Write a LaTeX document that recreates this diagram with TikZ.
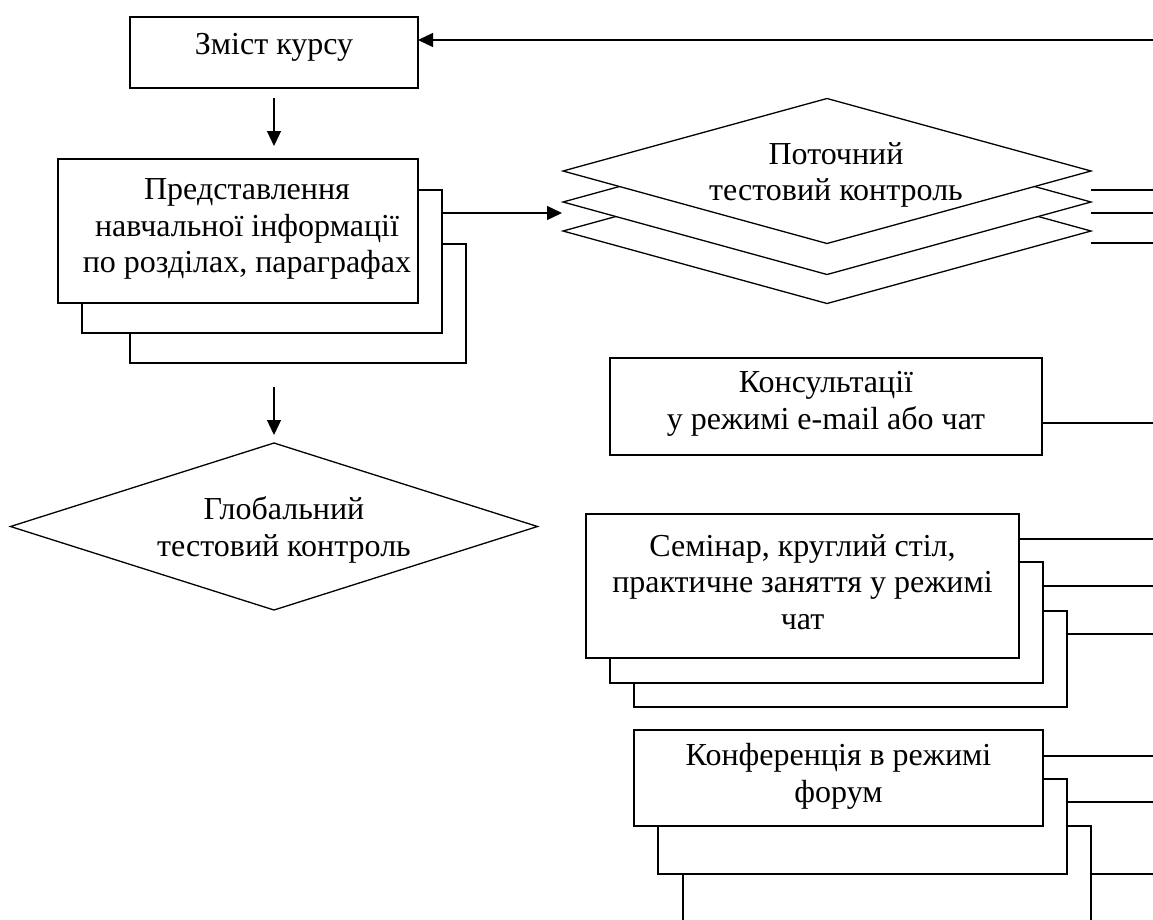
\documentclass[tikz,border=0pt]{standalone}
\usepackage{fontspec}
\setmainfont{Liberation Serif}
\usetikzlibrary{shapes.geometric,arrows.meta}
\tikzset{
  lw/.style={line width=1.3pt},
  txt/.style={font=\fontsize{32}{36.8}\selectfont, align=center, inner sep=0pt},
  boxnode/.style={lw, draw, fill=white, rectangle, inner sep=0pt, outer sep=0pt, txt},
  dianode/.style={lw, draw, fill=white, diamond, inner sep=0pt, outer sep=0pt},
  conn/.style={lw},
  arr/.style={lw, -{Triangle[length=15pt,width=14pt]}}
}
\begin{document}
\begin{tikzpicture}[x=1pt,y=-1pt]
\useasboundingbox (0,0) rectangle (1153,919);
\clip (0,0) rectangle (1153,919);
\fill[white] (0,0) rectangle (1153,919);

% Zmist kursu
\node[boxnode, minimum width=288pt, minimum height=71pt] (zmist) at (274,52.5) {};
\node[txt] (zmisttext) at (274,47.5) {Зміст курсу};
\coordinate (topin) at (1153,40);
\draw[arr] (topin) -- (topin -| zmist.east);

% Presentation stack
\node[boxnode, minimum width=336pt, minimum height=119pt] (pres3) at (298,303.5) {};
\node[boxnode, minimum width=360pt, minimum height=143pt] (pres2) at (262,261.5) {};
\node[boxnode, minimum width=360pt, minimum height=144pt] (pres1) at (238,231) {};
\node[txt] (prestext) at (247,229) {Представлення\\навчальної інформації\\по розділах, параграфах};

\coordinate (a1) at (274,98);
\coordinate (a2) at (274,387);
\draw[arr] (a1) -- ([yshift=13pt]a1 |- pres1.north);

% Current test diamonds
\node[dianode, minimum width=528pt, minimum height=145pt] (cur3) at (827,231) {};
\node[dianode, minimum width=528pt, minimum height=145pt] (cur2) at (827,202) {};
\node[dianode, minimum width=528pt, minimum height=145pt] (cur1) at (827,171) {};
\node[txt] (curtext) at (836,175) {Поточний\\тестовий контроль};

\coordinate (arrin) at (562,213);
\draw[arr] (arrin -| pres2.east) -- (arrin);

\coordinate (r1) at (1153,190);
\coordinate (r2) at (1153,213);
\coordinate (r3) at (1153,243);
\draw[conn] (r1 -| cur1.east) -- (r1);
\draw[conn] (r2 -| cur1.east) -- (r2);
\draw[conn] (r3 -| cur1.east) -- (r3);

% Global test
\node[dianode, minimum width=527pt, minimum height=167pt] (glob) at (274,526.5) {};
\node[txt] (globtext) at (284,530) {Глобальний\\тестовий контроль};
\draw[arr] (a2) -- ([yshift=8pt]glob.north);

% Consultations
\node[boxnode, minimum width=432pt, minimum height=97pt] (cons) at (826,406.5) {};
\node[txt] (constext) at (826,404) {Консультації\\у режимі e-mail або чат};
\coordinate (r4) at (1153,423);
\draw[conn] (r4 -| cons.east) -- (r4);

% Seminar stack
\node[boxnode, minimum width=433pt, minimum height=96pt] (sem3) at (850.5,659) {};
\node[boxnode, minimum width=433pt, minimum height=121pt] (sem2) at (826.5,622.5) {};
\node[boxnode, minimum width=433pt, minimum height=144pt] (sem1) at (802.5,586) {};
\node[txt] (semtext) at (802.5,582) {Семінар, круглий стіл,\\практичне заняття у режимі\\чат};
\coordinate (r5) at (1153,539);
\coordinate (r6) at (1153,586);
\coordinate (r7) at (1153,634);
\draw[conn] (r5 -| sem1.east) -- (r5);
\draw[conn] (r6 -| sem2.east) -- (r6);
\draw[conn] (r7 -| sem3.east) -- (r7);

% Conference stack
\node[boxnode, minimum width=408pt, minimum height=140pt] (conf3) at (887,896) {};
\node[boxnode, minimum width=409pt, minimum height=95pt] (conf2) at (862.5,826.5) {};
\node[boxnode, minimum width=409pt, minimum height=96pt] (conf1) at (838.5,778) {};
\node[txt] (conftext) at (838.5,776) {Конференція в режимі\\форум};
\coordinate (r8) at (1153,756);
\coordinate (r9) at (1153,802);
\coordinate (r10) at (1153,874);
\draw[conn] (r8 -| conf1.east) -- (r8);
\draw[conn] (r9 -| conf2.east) -- (r9);
\draw[conn] (r10 -| conf3.east) -- (r10);
\end{tikzpicture}
\end{document}
